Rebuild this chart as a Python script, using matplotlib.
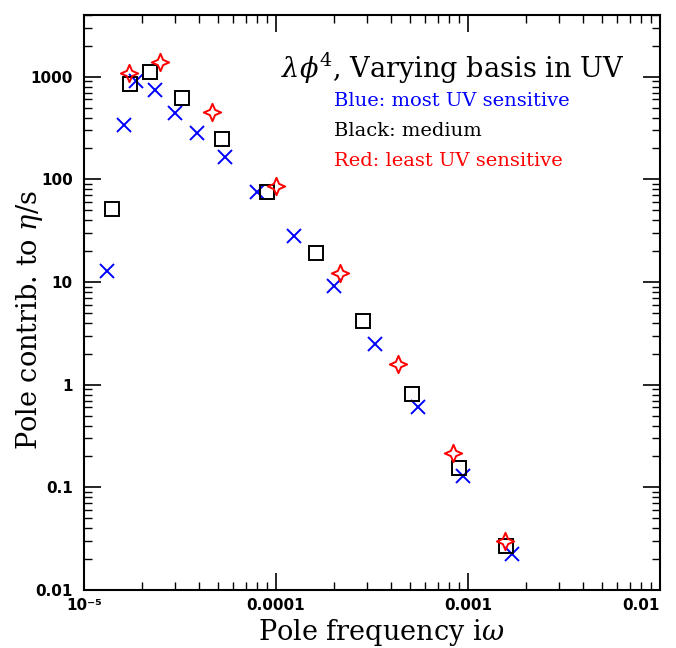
import matplotlib
matplotlib.use("Agg")
import matplotlib.pyplot as plt
import matplotlib.transforms as mtransforms
from matplotlib.path import Path
import numpy as np

# Blue: most UV sensitive
blue_x = [1.32e-5, 1.61e-5, 1.88e-5, 2.36e-5, 3.0e-5, 3.9e-5, 5.44e-5, 7.97e-5,
          1.25e-4, 2.0e-4, 3.3e-4, 5.5e-4, 9.4e-4, 1.69e-3]
blue_y = [12.8, 342, 914, 749, 447, 280, 164, 74.8, 28, 9.1, 2.5, 0.61, 0.128, 0.0224]

# Black: medium
black_x = [1.40e-5, 1.73e-5, 2.22e-5, 3.26e-5, 5.25e-5, 8.98e-5, 1.61e-4, 2.86e-4,
           5.13e-4, 8.98e-4, 1.59e-3]
black_y = [51, 855, 1118, 625, 250, 76, 19.1, 4.18, 0.82, 0.153, 0.0267]

# Red: least UV sensitive
red_x = [1.71e-5, 2.5e-5, 4.66e-5, 1.0e-4, 2.15e-4, 4.34e-4, 8.36e-4, 1.56e-3]
red_y = [1094, 1398, 457, 85.5, 12.2, 1.6, 0.214, 0.030]

xticks = [1e-5, 1e-4, 1e-3, 1e-2]
xticklabels = ["10\u207b\u2075", "0.0001", "0.001", "0.01"]
yticks = [0.01, 0.1, 1, 10, 100, 1000]
yticklabels = ["0.01", "0.1", "1", "10", "100", "1000"]

plt.rcParams['mathtext.fontset'] = 'dejavuserif'

fig = plt.figure(figsize=(6.76, 6.48), dpi=100)
ax = fig.add_axes([0.124, 0.0895, 0.852, 0.8875])
ax.set_xscale('log')
ax.set_yscale('log')
ax.set_xlim(1e-5, 1e-2)
ax.set_ylim(0.01, 4000)

# four-pointed concave star marker
r = 0.30
verts = [(0, 1), (r, r), (1, 0), (r, -r), (0, -1), (-r, -r), (-1, 0), (-r, r), (0, 1)]
star = Path(verts, [Path.MOVETO] + [Path.LINETO] * 7 + [Path.CLOSEPOLY])

ax.plot(blue_x, blue_y, linestyle='none', marker='x', color='#0000ff',
        markersize=9.5, markeredgewidth=1.4)
ax.plot(black_x, black_y, linestyle='none', marker='s', markerfacecolor='none',
        markeredgecolor='black', markersize=10, markeredgewidth=1.4)
ax.plot(red_x, red_y, linestyle='none', marker=star, markerfacecolor='none',
        markeredgecolor='#ff0000', markersize=12.5, markeredgewidth=1.4)

ax.set_xticks(xticks)
ax.set_xticklabels(xticklabels)
ax.set_yticks(yticks)
ax.set_yticklabels(yticklabels)
for lab in ax.get_xticklabels() + ax.get_yticklabels():
    lab.set_fontweight('bold')
    lab.set_fontsize(11)
    lab.set_family('DejaVu Sans')

# keep the last x label inside the figure
last = ax.get_xticklabels()[-1]
last.set_horizontalalignment('right')
last.set_transform(last.get_transform() +
                   mtransforms.ScaledTranslation(12 / 100, 0, fig.dpi_scale_trans))

ax.tick_params(which='both', direction='in', top=True, right=True)
ax.tick_params(which='major', length=12, width=1.2)
ax.tick_params(which='minor', length=6, width=1.0)
ax.tick_params(axis='y', which='minor', labelleft=False)
ax.tick_params(axis='x', which='minor', labelbottom=False)
ax.tick_params(axis='x', which='major', pad=6)
ax.tick_params(axis='y', which='major', pad=8)
for s in ax.spines.values():
    s.set_linewidth(1.5)

fig.text(0.564, 1 - 633 / 648, r"Pole frequency i$\omega$", fontsize=19.5,
         family='DejaVu Serif', ha='center', va='center')
fig.text(30 / 676, 1 - 320 / 648, r"Pole contrib. to $\eta$/s", fontsize=19.5,
         family='DejaVu Serif', ha='center', va='center', rotation=90)

ax.text(0.939, 0.907, r"$\lambda\phi^4$, Varying basis in UV", transform=ax.transAxes,
        ha='right', va='center', fontsize=19.5, family='DejaVu Serif')
ax.text(0.434, 0.850, "Blue: most UV sensitive", transform=ax.transAxes,
        ha='left', va='center', fontsize=14, color='#0000ff', family='DejaVu Serif')
ax.text(0.434, 0.798, "Black: medium", transform=ax.transAxes,
        ha='left', va='center', fontsize=14, color='black', family='DejaVu Serif')
ax.text(0.434, 0.746, "Red: least UV sensitive", transform=ax.transAxes,
        ha='left', va='center', fontsize=14, color='#ff0000', family='DejaVu Serif')

fig.savefig("out.png", dpi=100)
